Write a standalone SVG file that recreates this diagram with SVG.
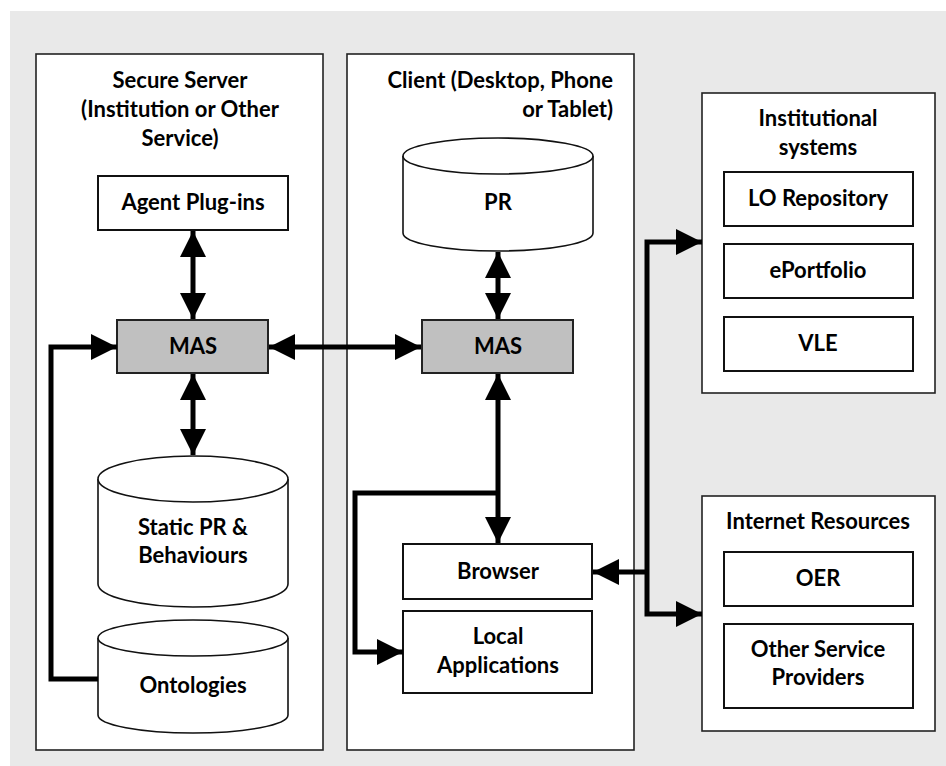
<svg xmlns="http://www.w3.org/2000/svg" width="946" height="766" viewBox="0 0 946 766">
  <style>
    .panel { fill: #ffffff; stroke: #222222; stroke-width: 1.6; }
    .box { fill: #ffffff; stroke: #111111; stroke-width: 2; }
    .mas { fill: #c0c0c0; stroke: #222222; stroke-width: 2; }
    .cyl { fill: #ffffff; stroke: #111111; stroke-width: 1.6; }
    .lbl { font-family: Lato, "Liberation Sans", sans-serif; font-weight: bold; font-size: 22px; fill: #000000; text-anchor: middle; }
    .end { text-anchor: end; }
    .wire { fill: none; stroke: #000000; stroke-width: 5; }
  </style>
  <defs>
    <marker id="head" viewBox="0 0 26 26" refX="26" refY="13" markerWidth="26" markerHeight="26" markerUnits="userSpaceOnUse" orient="auto-start-reverse">
      <path d="M0,0 L26,13 L0,26 Z" fill="#000000"/>
    </marker>
  </defs>

  <!-- backdrop -->
  <rect x="0" y="0" width="946" height="766" fill="#ffffff"/>
  <rect x="10" y="11" width="936" height="755" fill="#e9e9e9"/>

  <!-- Secure server panel -->
  <g id="server">
    <rect class="panel" x="36" y="54" width="287" height="696"/>
    <text class="lbl" x="180" y="88">Secure Server</text>
    <text class="lbl" x="180" y="117">(Institution or Other</text>
    <text class="lbl" x="180" y="146">Service)</text>
  </g>
  <g id="agent-plugins">
    <rect class="box" x="98" y="176" width="190" height="54"/>
    <text class="lbl" x="193" y="210">Agent Plug-ins</text>
  </g>
  <g id="server-mas">
    <rect class="mas" x="117" y="320" width="151" height="53"/>
    <text class="lbl" x="193" y="354">MAS</text>
  </g>
  <g id="static-pr">
    <path class="cyl" d="M98,479 A95,23 0 0 1 288,479 V584 A95,23 0 0 1 98,584 Z"/>
    <path class="cyl" fill="none" d="M98,479 A95,23 0 0 0 288,479"/>
    <text class="lbl" x="193" y="535">Static PR &amp;</text>
    <text class="lbl" x="193" y="563">Behaviours</text>
  </g>
  <g id="ontologies">
    <path class="cyl" d="M98,638 A95,18 0 0 1 288,638 V715 A95,18 0 0 1 98,715 Z"/>
    <path class="cyl" fill="none" d="M98,638 A95,18 0 0 0 288,638"/>
    <text class="lbl" x="193" y="693">Ontologies</text>
  </g>

  <!-- Client panel -->
  <g id="client">
    <rect class="panel" x="347" y="54" width="287" height="696"/>
    <text class="lbl end" x="613" y="88">Client (Desktop, Phone</text>
    <text class="lbl end" x="613" y="117">or Tablet)</text>
  </g>
  <g id="pr">
    <path class="cyl" d="M403,156 A95,18 0 0 1 593,156 V233 A95,18 0 0 1 403,233 Z"/>
    <path class="cyl" fill="none" d="M403,156 A95,18 0 0 0 593,156"/>
    <text class="lbl" x="498" y="210">PR</text>
  </g>
  <g id="client-mas">
    <rect class="mas" x="422" y="320" width="151" height="53"/>
    <text class="lbl" x="498" y="354">MAS</text>
  </g>
  <g id="browser">
    <rect class="box" x="403" y="544" width="189" height="55"/>
    <text class="lbl" x="498" y="579">Browser</text>
  </g>
  <g id="local-apps">
    <rect class="box" x="403" y="611" width="189" height="82"/>
    <text class="lbl" x="498" y="644">Local</text>
    <text class="lbl" x="498" y="673">Applications</text>
  </g>

  <!-- Institutional systems -->
  <g id="institutional">
    <rect class="panel" x="702" y="93" width="233" height="300"/>
    <text class="lbl" x="818" y="126">Institutional</text>
    <text class="lbl" x="818" y="155">systems</text>
  </g>
  <g id="lo-repository">
    <rect class="box" x="724" y="172" width="189" height="54"/>
    <text class="lbl" x="818" y="206">LO Repository</text>
  </g>
  <g id="eportfolio">
    <rect class="box" x="724" y="244" width="189" height="54"/>
    <text class="lbl" x="818" y="278">ePortfolio</text>
  </g>
  <g id="vle">
    <rect class="box" x="724" y="317" width="189" height="54"/>
    <text class="lbl" x="818" y="351">VLE</text>
  </g>

  <!-- Internet resources -->
  <g id="internet">
    <rect class="panel" x="702" y="496" width="233" height="235"/>
    <text class="lbl" x="818" y="529">Internet Resources</text>
  </g>
  <g id="oer">
    <rect class="box" x="724" y="552" width="189" height="54"/>
    <text class="lbl" x="818" y="586">OER</text>
  </g>
  <g id="other-providers">
    <rect class="box" x="724" y="624" width="189" height="84"/>
    <text class="lbl" x="818" y="657">Other Service</text>
    <text class="lbl" x="818" y="685">Providers</text>
  </g>

  <!-- connectors -->
  <g id="connectors">
    <line class="wire" x1="193" y1="231" x2="193" y2="319" marker-start="url(#head)" marker-end="url(#head)"/>
    <line class="wire" x1="193" y1="374" x2="193" y2="455" marker-start="url(#head)" marker-end="url(#head)"/>
    <line class="wire" x1="269" y1="347" x2="421" y2="347" marker-start="url(#head)" marker-end="url(#head)"/>
    <polyline class="wire" points="98,679 51,679 51,347 117,347" marker-end="url(#head)"/>
    <line class="wire" x1="498" y1="252" x2="498" y2="319" marker-start="url(#head)" marker-end="url(#head)"/>
    <line class="wire" x1="498" y1="374" x2="498" y2="543" marker-start="url(#head)" marker-end="url(#head)"/>
    <polyline class="wire" points="498,493 355,493 355,652 403,652" marker-end="url(#head)"/>
    <polyline class="wire" points="647,572 593,572" marker-end="url(#head)"/>
    <polyline class="wire" points="702,242 647,242 647,614 702,614" marker-start="url(#head)" marker-end="url(#head)"/>
  </g>
</svg>
